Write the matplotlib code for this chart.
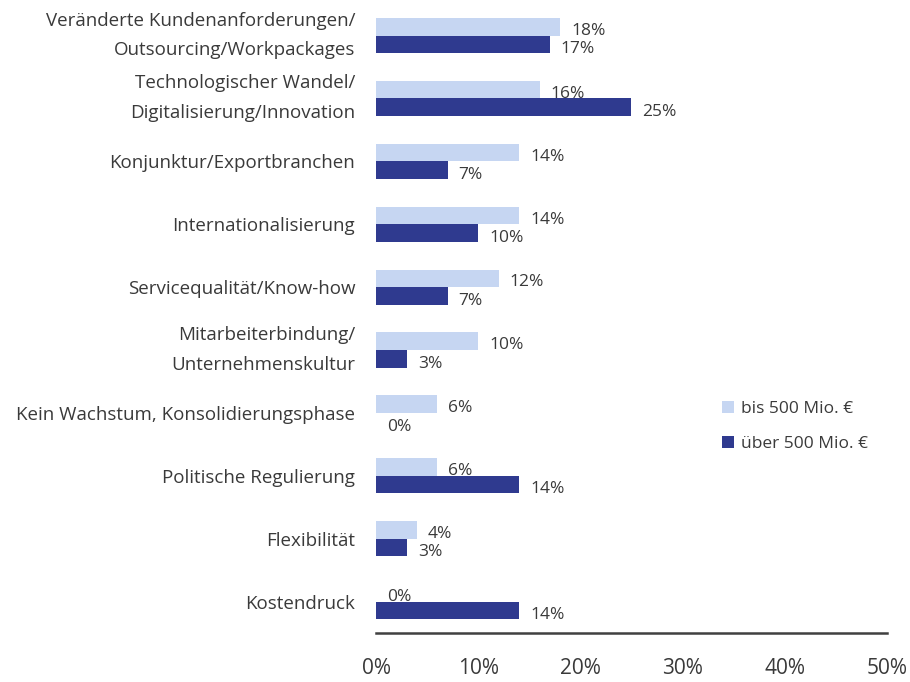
"""Horizontal grouped bar chart: growth drivers by company size."""

import matplotlib

matplotlib.use("Agg")

import matplotlib.pyplot as plt
import numpy as np

LIGHT, DARK, INK, AXIS = "#c6d6f2", "#2f3a8f", "#3a3a3a", "#404040"

categories = [
    "Veränderte Kundenanforderungen/\nOutsourcing/Workpackages",
    "Technologischer Wandel/\nDigitalisierung/Innovation",
    "Konjunktur/Exportbranchen",
    "Internationalisierung",
    "Servicequalität/Know-how",
    "Mitarbeiterbindung/\nUnternehmenskultur",
    "Kein Wachstum, Konsolidierungsphase",
    "Politische Regulierung",
    "Flexibilität",
    "Kostendruck",
]
small_firms = [18, 16, 14, 14, 12, 10, 6, 6, 4, 0]
large_firms = [17, 25, 7, 10, 7, 3, 0, 14, 3, 14]
series_labels = ["bis 500 Mio. €", "über 500 Mio. €"]
x_ticks = [0, 10, 20, 30, 40, 50]

plt.rcParams["font.family"] = ["Open Sans", "DejaVu Sans"]

fig = plt.figure(figsize=(9.1, 6.82), dpi=100)
ax = fig.add_axes([0.4132, 0.0718, 0.5615, 0.9222])

y = np.arange(len(categories))
h = 0.28
ax.barh(y - h / 2, small_firms, height=h, color=LIGHT, label=series_labels[0])
ax.barh(y + h / 2, large_firms, height=h, color=DARK, label=series_labels[1])

for yi, v in zip(y, small_firms):
    ax.annotate(f"{v}%", (v, yi - h / 2), xytext=(8, -3), textcoords="offset points",
                va="center", ha="left", fontsize=12.5, color=INK)
for yi, v in zip(y, large_firms):
    ax.annotate(f"{v}%", (v, yi + h / 2), xytext=(8, -3.5), textcoords="offset points",
                va="center", ha="left", fontsize=12.5, color=INK)

ax.set_xlim(0, 50)
ax.set_ylim(len(categories) - 0.5, -0.5)
ax.set_xticks(x_ticks, [f"{t}%" for t in x_ticks], fontsize=15, color=INK)
ax.set_yticks(y, categories, fontsize=13.5, color=INK, linespacing=1.85)
for label in ax.get_yticklabels():
    if "\n" in label.get_text():
        label.set_verticalalignment("center")
ax.tick_params(length=0)
ax.tick_params(axis="x", pad=18)
ax.tick_params(axis="y", pad=15)
for side in ("top", "right", "left"):
    ax.spines[side].set_visible(False)
ax.spines["bottom"].set_color(AXIS)
ax.spines["bottom"].set_linewidth(1.8)

ax.legend(loc="upper left", bbox_to_anchor=(722 / 910, 1 - 401 / 682),
          bbox_transform=fig.transFigure, frameon=False, fontsize=12.5,
          handlelength=0.7, handleheight=0.7, handletextpad=0.4,
          labelspacing=1.1, borderpad=0, borderaxespad=0, labelcolor=INK)

fig.savefig("out.png", dpi=100, facecolor="white")
